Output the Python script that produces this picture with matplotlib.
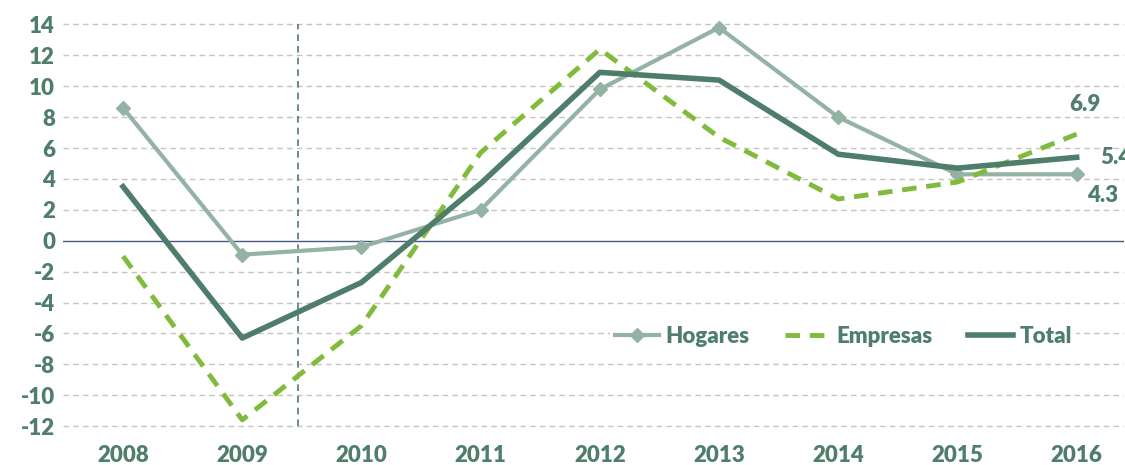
import matplotlib
matplotlib.use('Agg')
import numpy as np
from matplotlib import pyplot as plt

years = ['2008', '2009', '2010', '2011', '2012', '2013', '2014', '2015', '2016']
hogares = [8.6, -0.9, -0.4, 2.0, 9.8, 13.8, 8.0, 4.3, 4.3]
empresas = [-1.0, -11.6, -5.5, 5.7, 12.4, 6.7, 2.7, 3.8, 6.9]
total = [3.5, -6.3, -2.7, 3.7, 10.9, 10.4, 5.6, 4.7, 5.4]
yticks = list(range(-12, 15, 2))

c_text = '#4f7f6b'
c_hog = '#94b3a5'
c_emp = '#80bb3c'
c_tot = '#4e7d6a'

plt.rcParams['font.family'] = ['Lato', 'DejaVu Sans']
plt.rcParams['font.weight'] = 'heavy'
plt.rcParams['axes.unicode_minus'] = False

fig = plt.figure(figsize=(11.25, 4.65), dpi=100)
ax = fig.add_axes([0.0564, 0.067, 0.943, 0.897])
x = np.arange(len(years))

for t in yticks:
    if t != 0:
        ax.axhline(t, color='#c4c4c4', lw=1, ls=(0, (4, 3)), zorder=0)
ax.axhline(0, color='#4a5a80', lw=1, zorder=1)
ax.plot([1.47, 1.47], [-12, 14], color=c_tot, lw=1.2, ls=(0, (4, 3)), zorder=1)

ax.plot(x, hogares, color=c_hog, lw=3, marker='D', ms=7, label='Hogares', zorder=3)
ax.plot(x, empresas, color=c_emp, lw=3.5, ls=(0, (3, 2)), label='Empresas', zorder=4)
ax.plot(x, total, color=c_tot, lw=4, label='Total', zorder=5)

ax.text(8.07, 8.8, '6.9', color=c_text, fontsize=16, fontweight='heavy', ha='center', va='center')
ax.text(8.2, 5.4, '5.4', color=c_text, fontsize=16, fontweight='heavy', ha='left', va='center')
ax.text(8.22, 2.9, '4.3', color=c_text, fontsize=16, fontweight='heavy', ha='center', va='center')

ax.set_xlim(-0.5, 8.4)
ax.set_ylim(-12.5, 14.5)
ax.set_xticks(x)
ax.set_xticklabels(years)
ax.set_yticks(yticks)
ax.tick_params(length=0, labelsize=16, colors=c_text, pad=6)
ax.tick_params(axis='x', pad=8)
for lab in ax.get_xticklabels() + ax.get_yticklabels():
    lab.set_fontweight('heavy')
for s in ax.spines.values():
    s.set_visible(False)

leg = ax.legend(loc='center', bbox_to_anchor=(0.735, 0.233), ncol=3, frameon=True,
                facecolor='white', edgecolor='none', framealpha=1, borderpad=0.2,
                handlelength=2.0, columnspacing=1.6, handletextpad=0.3,
                prop={'size': 16, 'weight': 'heavy'})
for t in leg.get_texts():
    t.set_color(c_text)

fig.savefig('out.png', dpi=100)
